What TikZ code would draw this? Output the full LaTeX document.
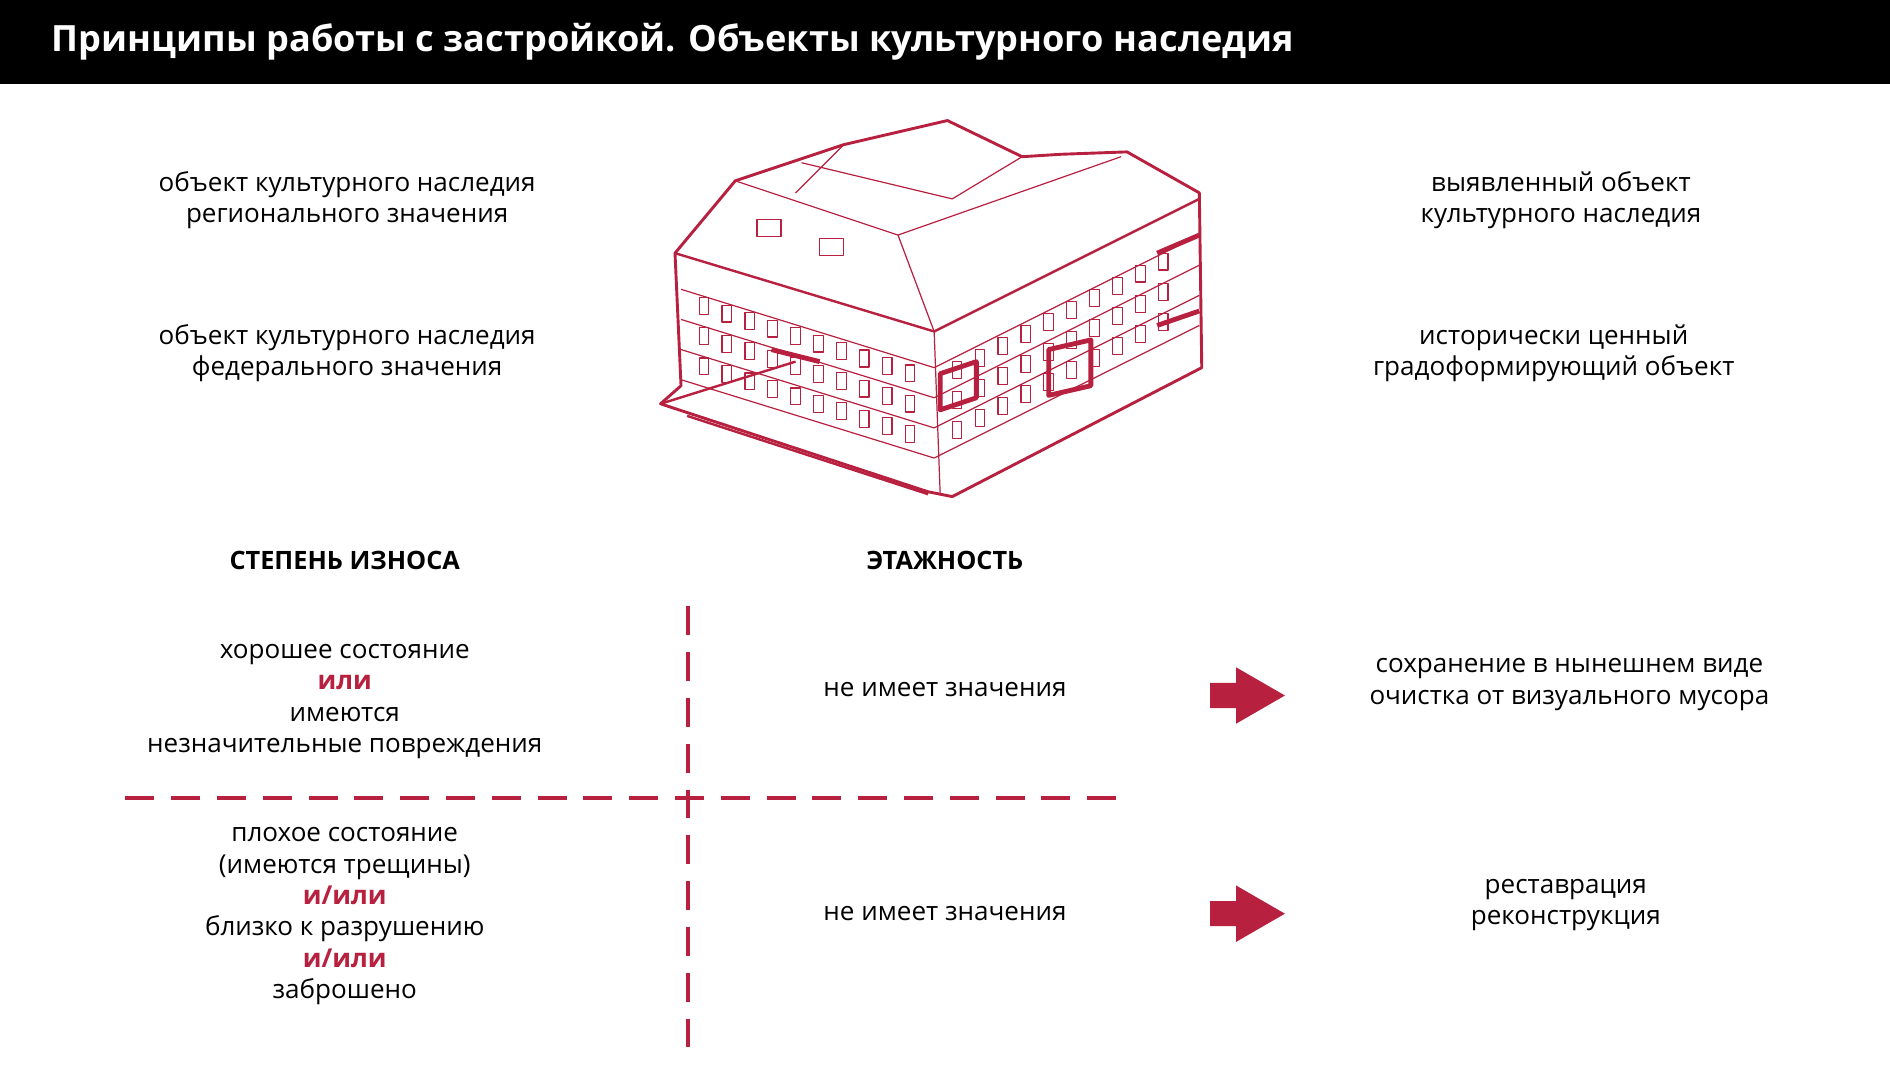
\documentclass[tikz,border=0pt]{standalone}
\usepackage{fontspec}
\setmainfont{Open Sans}
\usetikzlibrary{shapes.arrows}
\definecolor{crim}{HTML}{B8203F}
\tikzset{txt/.style = {align=center, font=\fontsize{10.8}{13}\selectfont},
         hd/.style  = {font=\fontsize{10.5}{13}\selectfont\bfseries},
         sep/.style = {crim, line width=1.6pt, dash pattern=on 12pt off 7pt},
         blk/.style = {single arrow, fill=crim, minimum height=31pt, minimum width=23pt,
                       single arrow head extend=6.5pt, single arrow tip angle=60, inner sep=5pt},
         bl/.style  = {crim, line width=0.5pt}}
\begin{document}
\begin{tikzpicture}[x=0.5pt, y=-0.5pt, line join=round]
  \useasboundingbox (0,0) rectangle (1568,896);
  \fill[black] (0,0) rectangle (1568,70);
  \node[anchor=west, text=white, font=\fontsize{15}{18}\selectfont\bfseries] (title) at (36,35)
    {Принципы работы с застройкой. Объекты культурного наследия};
  % labels around the building
  \node[txt] (reg) at (288,166) {объект культурного наследия\\регионального значения};
  \node[txt] (fed) at (288,293) {объект культурного наследия\\федерального значения};
  \node[txt] (vyy) at (1295,166) {выявленный объект\\культурного наследия};
  \node[txt] (ist) at (1289,293) {исторически ценный\\градоформирующий объект};
  % building
  \draw[bl, line width=1.2pt, fill=white] (560,210) -- (610,150) -- (700,120) -- (786,100) -- (848,130)
    -- (880,128) -- (935,126) -- (995,160) -- (997,305) -- (790,412) -- (770,408) -- (548,335) -- (565,320) -- cycle;
  \draw[bl, line width=1pt] (560,210) -- (775,275) -- (995,165);
  \draw[bl] (775,275) -- (780,410);
  \draw[bl] (610,150) -- (745,195) -- (775,275);
  \draw[bl] (745,195) -- (930,130);
  \draw[bl] (660,160) -- (700,120) (665,135) -- (790,165) -- (848,130);
  \foreach \r in {0,1,2,3} {
    \draw[bl] (565,{240+25*\r}) -- (775,{305+25*\r});
    \draw[bl] (775,{305+25*\r}) -- (995,{195+25*\r});
  }
  \foreach \i in {0,...,9} {
    \foreach \r in {0,1,2} {
      \draw[bl] ({580+19*\i},{247+6.2*\i+25*\r}) rectangle ++(8,14);
      \draw[bl] ({790+19*\i},{300-10*\i+25*\r}) rectangle ++(8,14);
    }
  }
  \foreach \x/\y in {628/182, 680/198} \draw[bl, fill=white] (\x,\y) rectangle ++(20,14);
  \draw[crim, line width=2pt] (780,310) -- (810,300) -- (810,330) -- (780,340) -- cycle
    (870,290) -- (905,282) -- (905,320) -- (870,328) -- cycle
    (960,210) -- (995,195) (960,270) -- (995,258) (640,290) -- (680,300);
  \draw[bl, line width=1pt] (548,335) -- (660,300) (570,345) -- (770,410);
  % headings
  \node[hd] (wear) at (286,465) {СТЕПЕНЬ ИЗНОСА};
  \node[hd] (floors) at (784,465) {ЭТАЖНОСТЬ};
  % grid
  \coordinate (vt) at (571,503); \coordinate (vb) at (571,880);
  \coordinate (hl) at (104,662); \coordinate (hr) at (930,662);
  \draw[sep] (vt) -- (vb);
  \draw[sep] (hl) -- (hr);
  % rows
  \node[txt] (good) at (286,582) {хорошее состояние\\{\bfseries\color{crim}или}\\имеются\\незначительные повреждения};
  \node[txt] (bad) at (286,760) {плохое состояние\\(имеются трещины)\\{\bfseries\color{crim}и/или}\\близко к разрушению\\{\bfseries\color{crim}и/или}\\заброшено};
  \node[txt] (any1) at (784,572) {не имеет значения};
  \node[txt] (any2) at (784,758) {не имеет значения};
  \node[blk] (a1) at (1026,577) {};
  \node[blk] (a2) at (1026,758) {};
  \node[txt] (keep) at (1302,568) {сохранение в нынешнем виде\\очистка от визуального мусора};
  \node[txt] (rest) at (1299,751) {реставрация\\реконструкция};
\end{tikzpicture}
\end{document}
